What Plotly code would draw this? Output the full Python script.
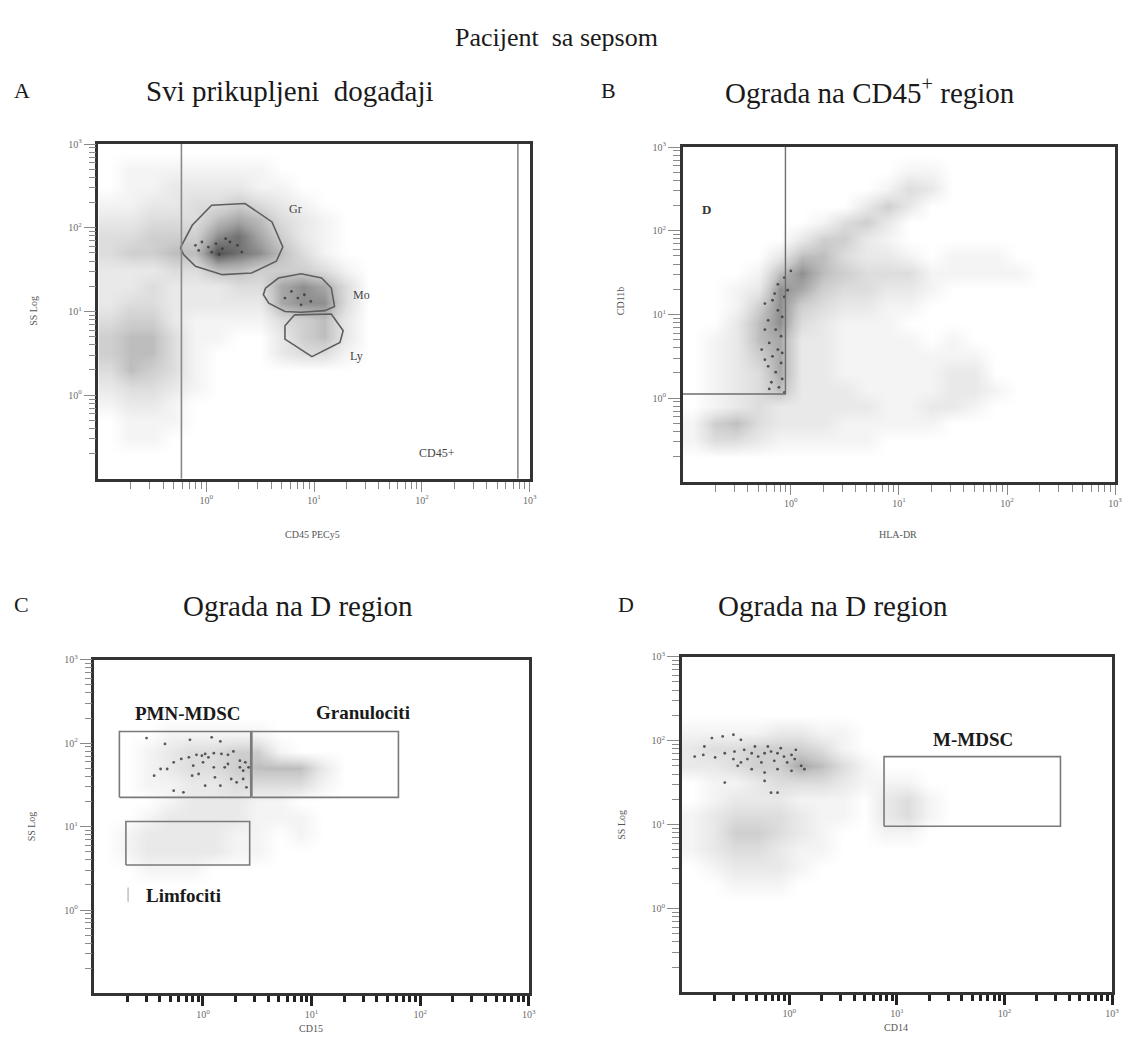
import plotly.graph_objects as go
import math

W, H = 1136, 1063
SERIF = "Liberation Serif, Times New Roman, serif"

# ---------------- data (all coordinates in log10 units) ----------------
grid_x = [-0.9, -0.7, -0.5, -0.3, -0.1, 0.1, 0.3, 0.5, 0.7, 0.9,
          1.1, 1.3, 1.5, 1.7, 1.9, 2.1, 2.3, 2.5, 2.7, 2.9]
grid_y_top_down = [2.9, 2.7, 2.5, 2.3, 2.1, 1.9, 1.7, 1.5, 1.3, 1.1,
                   0.9, 0.7, 0.5, 0.3, 0.1, -0.1, -0.3, -0.5, -0.7, -0.9]

# event density (0-9), rows from top (10^3) to bottom
density_A = [
    "00000000000000000000",
    "01111111000000000000",
    "01122221100000000000",
    "11223343210000000000",
    "22333565321000000000",
    "33444786421000000000",
    "34455987531000000000",
    "22233554443100000000",
    "22322233676300000000",
    "23322222677300000000",
    "34421111345200000000",
    "45531100245200000000",
    "45531000233100000000",
    "35431000000000000000",
    "23321000000000000000",
    "12210000000000000000",
    "01110000000000000000",
    "01100000000000000000",
    "00000000000000000000",
    "00000000000000000000",
]
density_B = [
    "00000000000000000000",
    "00000000001100000000",
    "00000000013200000000",
    "00000000242000000000",
    "00000013420000000000",
    "00000244210000000000",
    "00002553221011100000",
    "00015754333111110000",
    "00127643322100000000",
    "00147432211000000000",
    "00257321110000000000",
    "01256221111010000000",
    "01246221111111000000",
    "01236221111122000000",
    "01235222111122100000",
    "01232222211221000000",
    "14532221111100000000",
    "13321111100000000000",
    "00000000000000000000",
    "00000000000000000000",
]
density_C = [
    "00000000000000000000",
    "00000000000000000000",
    "00000000000000000000",
    "00000000000000000000",
    "00011111000000000000",
    "00123344100000000000",
    "00123345552000000000",
    "00112233331000000000",
    "00012221100000000000",
    "00122221110000000000",
    "01222211010000000000",
    "01222211000000000000",
    "00111000000000000000",
    "00000000000000000000",
    "00000000000000000000",
    "00000000000000000000",
    "00000000000000000000",
    "00000000000000000000",
    "00000000000000000000",
    "00000000000000000000",
]
density_D = [
    "00000000000000000000",
    "00000000000000000000",
    "00000000000000000000",
    "00000000000000000000",
    "11112211000000000000",
    "23344431000000000000",
    "22344653100000000000",
    "01123332111000000000",
    "01222111023100000000",
    "12333211023100000000",
    "12443210011000000000",
    "12332110000000000000",
    "01222100000000000000",
    "00111000000000000000",
    "00000000000000000000",
    "00000000000000000000",
    "00000000000000000000",
    "00000000000000000000",
    "00000000000000000000",
    "00000000000000000000",
]

# individually visible dark events
dots_A_x = [-0.10, -0.04, 0.02, 0.09, 0.15, 0.22, 0.29, 0.05, 0.18, -0.07, 0.12, 0.33,
            0.85, 0.91, 0.79, 0.97, 0.73, 0.88]
dots_A_y = [1.79, 1.83, 1.77, 1.81, 1.75, 1.83, 1.79, 1.71, 1.87, 1.73, 1.68, 1.71,
            1.16, 1.20, 1.24, 1.12, 1.16, 1.08]
dots_B_x = [-0.24, -0.17, -0.12, -0.08, -0.21, -0.14, -0.09, -0.20, -0.12, -0.17, -0.09, -0.21,
            -0.14, -0.08, -0.18, -0.11, -0.06, -0.24, -0.27, -0.06, -0.15, -0.03, -0.06, 0.00,
            -0.12, -0.24, -0.08, -0.20]
dots_B_y = [1.13, 1.17, 1.05, 0.97, 0.93, 0.82, 0.74, 0.66, 0.58, 0.50, 0.42, 0.38,
            0.31, 0.23, 0.19, 0.13, 0.07, 0.82, 0.58, 1.21, 1.25, 1.29, 1.44, 1.52,
            1.36, 0.46, 0.54, 0.11]
dots_C_x = [-0.52, -0.35, -0.12, 0.08, 0.16, -0.20, -0.13, -0.06, -0.01, 0.02, 0.10, 0.17,
            0.23, 0.28, 0.34, 0.39, 0.42, 0.37, 0.20, 0.10, 0.00, -0.09, -0.27, -0.39,
            -0.45, -0.04, 0.11, 0.26, 0.37, 0.40, 0.31, 0.16, 0.02, -0.27, -0.18, -0.10,
            -0.33, 0.23, 0.34, 0.05]
dots_C_y = [2.06, 1.99, 2.04, 2.07, 2.02, 1.81, 1.83, 1.86, 1.85, 1.87, 1.88, 1.87,
            1.86, 1.90, 1.79, 1.77, 1.71, 1.67, 1.71, 1.71, 1.77, 1.73, 1.77, 1.69,
            1.61, 1.63, 1.59, 1.57, 1.57, 1.47, 1.53, 1.49, 1.49, 1.43, 1.41, 1.61,
            1.69, 1.75, 1.71, 1.83]
dots_D_x = [-0.88, -0.79, -0.72, -0.62, -0.52, -0.45, -0.80, -0.69, -0.60, -0.51, -0.42, -0.35,
            -0.29, -0.23, -0.17, -0.11, -0.05, 0.02, 0.06, -0.39, -0.26, -0.14, -0.02, 0.11,
            -0.48, -0.35, -0.23, -0.11, 0.02, -0.60, -0.23, -0.17, -0.11, -0.45, -0.52, -0.32,
            -0.20, -0.08, 0.05, 0.14]
dots_D_y = [1.81, 1.93, 2.03, 2.05, 2.07, 2.01, 1.83, 1.80, 1.85, 1.87, 1.89, 1.85,
            1.81, 1.85, 1.87, 1.85, 1.81, 1.83, 1.89, 1.78, 1.74, 1.76, 1.74, 1.70,
            1.70, 1.66, 1.62, 1.66, 1.64, 1.50, 1.52, 1.38, 1.38, 1.74, 1.78, 1.93,
            1.93, 1.91, 1.78, 1.66]

# gates
gate_Gr_x = [-0.24, -0.13, 0.05, 0.36, 0.61, 0.71, 0.65, 0.42, 0.15, -0.10, -0.21]
gate_Gr_y = [1.76, 2.03, 2.27, 2.29, 2.07, 1.77, 1.60, 1.46, 1.44, 1.54, 1.68]
gate_Mo_x = [0.55, 0.67, 0.88, 1.07, 1.16, 1.19, 1.10, 0.88, 0.73, 0.58, 0.53]
gate_Mo_y = [1.28, 1.40, 1.45, 1.40, 1.28, 1.06, 1.01, 0.99, 1.00, 1.10, 1.20]
gate_Ly_x = [0.82, 1.16, 1.27, 1.24, 0.98, 0.73, 0.73]
gate_Ly_y = [0.96, 0.97, 0.77, 0.63, 0.46, 0.67, 0.83]
cd45_gate_x = [-0.23, 2.89]
gate_D_x = [-1.0, -0.05]
gate_D_y = [0.05, 3.0]
rect_PMN = [-0.77, 0.44, 1.35, 2.14]
rect_Gran = [0.45, 1.80, 1.35, 2.14]
rect_Lym = [-0.71, 0.43, 0.54, 1.06]
rect_MMDSC = [0.88, 2.52, 0.98, 1.81]
lym_mark_x = [-0.69, -0.69]
lym_mark_y = [0.10, 0.27]

tick_vals = [0, 1, 2, 3]
tick_text = ["10<sup>0</sup>", "10<sup>1</sup>", "10<sup>2</sup>", "10<sup>3</sup>"]

# ---------------- figure ----------------
minor_vals = [n + math.log10(k) for n in range(-1, 3) for k in range(2, 10)]

fig = go.Figure()

grey_scale = [[0.0, "#ffffff"], [0.12, "#f3f3f3"], [0.3, "#e1e1e1"], [0.5, "#c8c8c8"],
              [0.7, "#a2a2a2"], [0.85, "#7c7c7c"], [1.0, "#525252"]]

panels = [
    ("x", "y", density_A, dots_A_x, dots_A_y),
    ("x2", "y2", density_B, dots_B_x, dots_B_y),
    ("x3", "y3", density_C, dots_C_x, dots_C_y),
    ("x4", "y4", density_D, dots_D_x, dots_D_y),
]
grid_y = list(reversed(grid_y_top_down))
for xa, ya, dens, dx, dy in panels:
    z = [[int(ch) for ch in row] for row in reversed(dens)]
    fig.add_trace(go.Heatmap(z=z, x=grid_x, y=grid_y, zmin=0, zmax=9, zsmooth="best",
                             colorscale=grey_scale, showscale=False, hoverinfo="skip",
                             xaxis=xa, yaxis=ya))
    fig.add_trace(go.Scatter(x=dx, y=dy, mode="markers", xaxis=xa, yaxis=ya,
                             marker=dict(size=2.8, color="#333333", opacity=0.8),
                             hoverinfo="skip", showlegend=False))

def closed(xs, ys):
    return xs + [xs[0]], ys + [ys[0]]

def line(xs, ys, xa, ya, color="#6a6a6a", width=1.5):
    fig.add_trace(go.Scatter(x=xs, y=ys, mode="lines", xaxis=xa, yaxis=ya,
                             line=dict(color=color, width=width),
                             hoverinfo="skip", showlegend=False))

for gx, gy in [(gate_Gr_x, gate_Gr_y), (gate_Mo_x, gate_Mo_y), (gate_Ly_x, gate_Ly_y)]:
    cx, cy = closed(gx, gy)
    line(cx, cy, "x", "y", "#5e5e5e", 1.6)
for vx in cd45_gate_x:
    line([vx, vx], [-1, 3], "x", "y", "#8a8a8a", 1.6)

line([gate_D_x[0], gate_D_x[1], gate_D_x[1]], [gate_D_y[0], gate_D_y[0], gate_D_y[1]],
     "x2", "y2", "#6e6e6e", 1.4)

def rect(r, xa, ya):
    x0, x1, y0, y1 = r
    line([x0, x1, x1, x0, x0], [y0, y0, y1, y1, y0], xa, ya, "#7a7a7a", 1.6)

rect(rect_PMN, "x3", "y3")
rect(rect_Gran, "x3", "y3")
rect(rect_Lym, "x3", "y3")
rect(rect_MMDSC, "x4", "y4")
line(lym_mark_x, lym_mark_y, "x3", "y3", "#b0b0b0", 1.2)

# ---------------- axes ----------------
def px_dom_x(a, b):
    return [a / W, b / W]

def px_dom_y(top, bottom):
    return [1 - bottom / H, 1 - top / H]

doms = {
    "": (px_dom_x(99, 533), px_dom_y(138, 475)),
    "2": (px_dom_x(687, 1122), px_dom_y(141, 478)),
    "3": (px_dom_x(95, 532), px_dom_y(657, 993)),
    "4": (px_dom_x(686, 1119), px_dom_y(654, 992)),
}

tickfont = dict(family=SERIF, size=10, color="#6a6a6a")
for key, (dx, dy) in doms.items():
    bold_x = key in ("3", "4")
    xax = dict(domain=dx, range=[-1, 3], anchor="y" + key, showgrid=False, zeroline=False,
               showline=True, mirror=True, linecolor="#333333", linewidth=2.5,
               tickmode="array", tickvals=tick_vals, ticktext=tick_text, ticks="outside",
               ticklen=10, tickwidth=3 if bold_x else 1,
               tickcolor="#222222" if bold_x else "#8a8a8a",
               tickfont=tickfont, fixedrange=True,
               minor=dict(tickmode="array", tickvals=minor_vals, ticks="outside",
                          ticklen=6 if bold_x else 7, tickwidth=3 if bold_x else 1,
                          tickcolor="#222222" if bold_x else "#8a8a8a"))
    yax = dict(domain=dy, range=[-1, 3], anchor="x" + key, showgrid=False, zeroline=False,
               showline=True, mirror=True, linecolor="#333333", linewidth=2.5,
               tickmode="array", tickvals=tick_vals, ticktext=tick_text, ticks="outside",
               ticklen=12, tickwidth=1, tickcolor="#8a8a8a", tickfont=tickfont,
               fixedrange=True,
               minor=dict(tickmode="array", tickvals=minor_vals, ticks="outside",
                          ticklen=7, tickwidth=1, tickcolor="#8a8a8a"))
    fig.layout["xaxis" + key] = xax
    fig.layout["yaxis" + key] = yax

# ---------------- annotations ----------------
ann = []

def ptext(text, x, y, size, color="#1a1a1a", angle=0, bold=False):
    if bold:
        text = "<b>" + text + "</b>"
    ann.append(dict(text=text, x=x / W, y=1 - y / H, xref="paper", yref="paper",
                    showarrow=False, textangle=angle, xanchor="center", yanchor="middle",
                    font=dict(family=SERIF, size=size, color=color)))

def dtext(text, x, y, xa, ya, size, color="#444444", bold=False):
    if bold:
        text = "<b>" + text + "</b>"
    ann.append(dict(text=text, x=x, y=y, xref=xa, yref=ya, showarrow=False,
                    xanchor="center", yanchor="middle",
                    font=dict(family=SERIF, size=size, color=color)))

ptext("Pacijent\u00a0 sa sepsom", 560, 31, 26)
ptext("A", 22, 84, 22)
ptext("Svi prikupljeni\u00a0 događaji", 292, 85, 29)
ptext("B", 612, 84, 22)
ptext("Ograda na CD45<sup>+</sup> region", 875, 85, 29)
ptext("C", 22, 601, 22)
ptext("Ograda na D region", 300, 603, 29)
ptext("D", 630, 601, 22)
ptext("Ograda na D region", 838, 603, 29)

axis_col = "#555555"
ptext("SS Log", 34, 306, 10, axis_col, angle=-90)
ptext("CD45 PECy5", 314, 531, 10, axis_col)
ptext("CD11b", 624, 296, 10, axis_col, angle=-90)
ptext("HLA-DR", 904, 531, 10, axis_col)
ptext("SS Log", 32, 825, 10, axis_col, angle=-90)
ptext("CD15", 313, 1028, 10, axis_col)
ptext("SS Log", 625, 823, 10, axis_col, angle=-90)
ptext("CD14", 902, 1027, 10, axis_col)

dtext("Gr", 0.83, 2.23, "x", "y", 12)
dtext("Mo", 1.44, 1.20, "x", "y", 12)
dtext("Ly", 1.39, 0.47, "x", "y", 12)
dtext("CD45+", 2.14, -0.69, "x", "y", 12)
dtext("D", -0.78, 2.25, "x2", "y2", 13, "#333333", bold=True)
dtext("PMN-MDSC", -0.14, 2.35, "x3", "y3", 19, "#1a1a1a", bold=True)
dtext("Granulociti", 1.47, 2.37, "x3", "y3", 19, "#1a1a1a", bold=True)
dtext("Limfociti", -0.18, 0.17, "x3", "y3", 19, "#1a1a1a", bold=True)
dtext("M-MDSC", 1.71, 2.01, "x4", "y4", 19, "#1a1a1a", bold=True)

fig.update_layout(width=W, height=H, margin=dict(l=0, r=0, t=0, b=0),
                  paper_bgcolor="white", plot_bgcolor="white", showlegend=False,
                  annotations=ann)

fig.write_html("out.html")
